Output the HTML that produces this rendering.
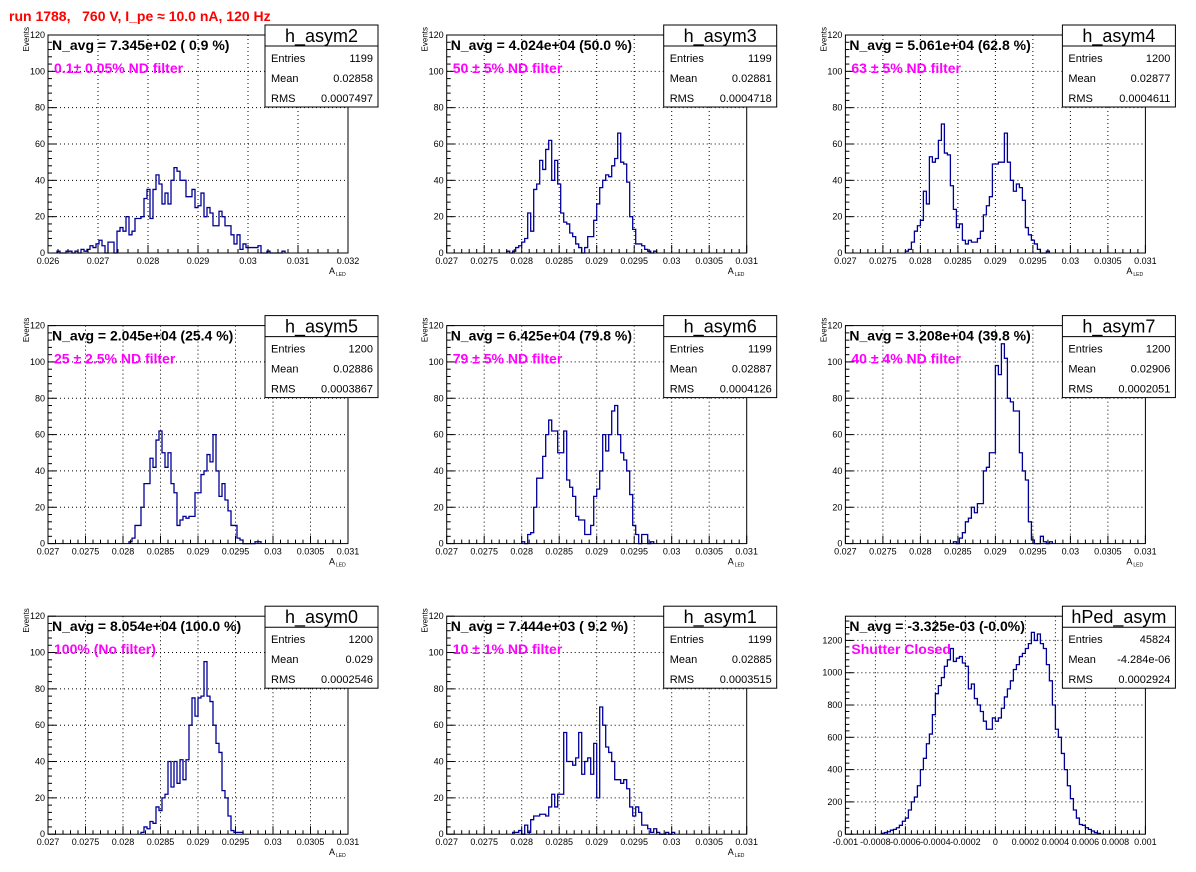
<!DOCTYPE html>
<html><head><meta charset="utf-8"><style>
body{margin:0;background:#fff;}
svg{display:block;font-family:"Liberation Sans",sans-serif;}
</style></head><body>
<svg id="c" width="1196" height="872" viewBox="0 0 1196 872" xmlns="http://www.w3.org/2000/svg">
<rect width="1196" height="872" fill="#fff"/>
<text x="9" y="21" fill="#f00" font-size="14" font-weight="bold" style="white-space:pre" xml:space="preserve">run 1788,   760 V, I_pe ≈ 10.0 nA, 120 Hz</text>
</svg>
<script>
// ---- data ----
const names=["h_asym2","h_asym3","h_asym4","h_asym5","h_asym6","h_asym7","h_asym0","h_asym1","hPed_asym"];
const navgText=["N_avg = 7.345e+02 ( 0.9 %)","N_avg = 4.024e+04 (50.0 %)","N_avg = 5.061e+04 (62.8 %)","N_avg = 2.045e+04 (25.4 %)","N_avg = 6.425e+04 (79.8 %)","N_avg = 3.208e+04 (39.8 %)","N_avg = 8.054e+04 (100.0 %)","N_avg = 7.444e+03 ( 9.2 %)","N_avg = -3.325e-03 (-0.0%)"];
const filterText=["0.1± 0.05% ND filter","50 ± 5% ND filter","63 ± 5% ND filter","25 ± 2.5% ND filter","79 ± 5% ND filter","40 ± 4% ND filter","100% (No filter)","10 ± 1% ND filter","Shutter Closed"];
const entries=["1199","1199","1200","1200","1199","1200","1200","1199","45824"];
const means=["0.02858","0.02881","0.02877","0.02886","0.02887","0.02906","0.029","0.02885","-4.284e-06"];
const rmss=["0.0007497","0.0004718","0.0004611","0.0003867","0.0004126","0.0002051","0.0002546","0.0003515","0.0002924"];
const xMin=[0.026,0.027,0.027,0.027,0.027,0.027,0.027,0.027,-0.001];
const xMax=[0.032,0.031,0.031,0.031,0.031,0.031,0.031,0.031,0.001];
const yMax=[120,120,120,120,120,120,120,120,1350];
const startBin=[3,20,20,27,25,36,31,22,12];
const xTickLabels=[["0.026","0.027","0.028","0.029","0.03","0.031","0.032"],
 null,null,null,null,null,null,null,
 ["-0.001","-0.0008","-0.0006","-0.0004","-0.0002","0","0.0002","0.0004","0.0006","0.0008","0.001"]];
const xTickStd=["0.027","0.0275","0.028","0.0285","0.029","0.0295","0.03","0.0305","0.031"];
const yTickStd=["0","20","40","60","80","100","120"];
const yTickPed=["0","200","400","600","800","1000","1200"];
const h0=[1,0,0,1,1,0,1,0,2,1,2,4,3,5,7,4,0,6,6,0,12,14,12,20,10,12,19,19,20,30,35,19,35,43,38,27,33,27,40,47,45,40,40,31,31,35,25,26,33,20,25,22,15,15,23,20,15,15,10,5,10,2,5,3,3,3,3,4,0,0,1,0,0,0,0,1];
const h1=[1,0,1,3,4,6,8,22,12,35,38,51,46,57,62,40,51,38,22,17,16,11,9,5,3,0,3,9,9,18,27,36,40,43,42,48,52,66,50,49,39,20,13,5,5,4,2,1,0,1];
const h2=[1,2,6,12,15,18,34,27,53,50,52,62,71,55,54,37,24,14,16,7,5,7,6,6,8,12,21,26,31,49,49,50,50,66,50,40,34,38,36,29,14,10,7,5,2,0,0,1];
const h3=[1,3,10,10,20,33,33,47,42,57,62,50,42,50,33,28,10,13,15,14,15,15,28,28,38,40,49,45,60,40,26,33,24,18,10,10,3,2,0,0,0,0,1,1];
const h4=[1,0,5,6,20,36,36,48,60,68,62,62,50,50,62,35,31,26,15,13,13,5,5,10,26,30,40,60,51,60,73,76,60,50,46,40,27,10,5,0,5,5,0,1];
const h5=[1,0,3,6,12,14,20,17,22,22,40,42,50,50,98,93,110,102,80,78,73,73,50,40,35,12,2,0,0,4,1,0,1];
const h6=[1,4,3,7,6,15,13,20,22,40,26,40,28,41,30,41,60,75,65,75,76,95,76,73,60,50,45,24,20,10,2,1,1,1];
const h7=[1,1,2,0,5,1,8,10,10,11,11,10,15,22,15,22,22,56,40,40,38,42,56,33,40,42,33,50,20,70,60,48,45,40,30,30,28,30,25,15,10,15,12,5,5,3,1,3,1,0,0,1,0,1];
const h8=[5,10,15,25,30,40,55,80,100,150,200,230,300,400,470,560,620,740,870,920,970,1040,1080,1150,1070,1090,1100,1060,1040,900,930,840,800,760,700,650,650,720,700,720,780,850,900,950,1020,1050,1100,1120,1150,1180,1250,1200,1240,1180,1150,1050,950,800,650,600,500,400,300,220,150,100,60,55,40,30,20,10,5];
const hists=[h0,h1,h2,h3,h4,h5,h6,h7,h8];

// ---- drawing ----
const svg=document.getElementById('c');
const NS="http://www.w3.org/2000/svg";
function mk(tag,attrs,parent,txt){const e=document.createElementNS(NS,tag);for(const k in attrs)e.setAttribute(k,attrs[k]);if(txt!==undefined)e.textContent=txt;(parent||svg).appendChild(e);return e;}
const W=300,H=218;
for(let p=0;p<9;p++){
  const c=p%3,r=Math.floor(p/3);
  const x0=48+c*398.7, y0=35+r*290.6;
  const g=mk('g',{});
  
  
  const xs=v=>x0+(v-xMin[p])/(xMax[p]-xMin[p])*W;
  const ys=v=>y0+H-v/yMax[p]*H;
  const xl=xTickLabels[p]||xTickStd;
  const nx=xl.length-1;
  const yl=p===8?yTickPed:yTickStd;
  const ystep=p===8?200:20;
  for(let i=1;i<nx;i++){const X=x0+i*W/nx;const l=mk('line',{x1:X,x2:X,y1:y0,y2:y0+H,stroke:'#000','stroke-width':1,'stroke-dasharray':'1,3'},g);}
  for(let i=1;i<yl.length;i++){const Y=ys(i*ystep);if(Y<=y0+0.5)continue;const l=mk('line',{x1:x0,x2:x0+W,y1:Y,y2:Y,stroke:'#000','stroke-width':1,'stroke-dasharray':'1,3'},g);}
  const data=hists[p];const bw=(xMax[p]-xMin[p])/100;
  let d='M'+xs(xMin[p]+startBin[p]*bw)+','+ys(0);
  for(let i=0;i<data.length;i++){const a=xMin[p]+(startBin[p]+i)*bw;d+=' L'+xs(a)+','+ys(data[i])+' L'+xs(a+bw)+','+ys(data[i]);}
  d+=' L'+xs(xMin[p]+(startBin[p]+data.length)*bw)+','+ys(0);
  const hp=mk('path',{d:d,fill:'none',stroke:'#000099','stroke-width':1.3},g);
  
  
  const fr=mk('rect',{x:x0,y:y0,width:W,height:H,fill:'none',stroke:'#000','stroke-width':1},g);
  
  for(let i=0;i<=nx*5;i++){const X=x0+i*W/(nx*5);const len=i%5===0?8:4;mk('line',{x1:X,x2:X,y1:y0+H,y2:y0+H-len,stroke:'#000'},g);}
  for(let i=0;i<=nx;i++){const t=mk('text',{x:x0+i*W/nx,y:y0+H+11,'font-size':9,'text-anchor':'middle'},g,xl[i]);}
  const minor=ystep/5;
  for(let v=0;v<=yMax[p]+1e-9;v+=minor){const Y=ys(v);const major=Math.abs(v/ystep-Math.round(v/ystep))<1e-6;mk('line',{x1:x0,x2:x0+(major?8:4),y1:Y,y2:Y,stroke:'#000'},g);}
  for(let i=0;i<yl.length;i++){const t=mk('text',{x:x0-3,y:ys(i*ystep)+3,'font-size':9,'text-anchor':'end'},g,yl[i]);}
  if(p!==8){
    const ax=mk('text',{x:x0+281,y:y0+H+21,'font-size':9},g,'A');
    mk('text',{x:x0+288,y:y0+H+23,'font-size':5},g,'LED');
    const ey=mk('text',{x:0,y:0,'font-size':8,'text-anchor':'end',transform:'translate('+(x0-19)+','+(y0-8)+') rotate(-90)'},g,'Events');
  }
  const nt=mk('text',{x:x0+4,y:y0+15,'font-size':14,'font-weight':'bold'},g,navgText[p]);
  const ft=mk('text',{x:x0+6,y:y0+38,'font-size':14,'font-weight':'bold',fill:'#ff00ff'},g,filterText[p]);
  const bx=x0+217,by=y0-10,bwid=113;
  const sb=mk('g',{},g);
  mk('rect',{x:bx,y:by,width:bwid,height:82,fill:'#fff',stroke:'#000','stroke-width':1},sb);
  mk('line',{x1:bx,x2:bx+bwid,y1:by+21,y2:by+21,stroke:'#000'},sb);
  mk('text',{x:bx+bwid/2,y:by+17,'font-size':18,'text-anchor':'middle'},sb,names[p]);
  const rows=[["Entries",entries[p]],["Mean",means[p]],["RMS",rmss[p]]];
  rows.forEach((rw,i)=>{const Y=by+37+i*20;mk('text',{x:bx+6,y:Y,'font-size':11},sb,rw[0]);mk('text',{x:bx+bwid-5,y:Y,'font-size':11,'text-anchor':'end'},sb,rw[1]);});
}
</script>
</body></html>
